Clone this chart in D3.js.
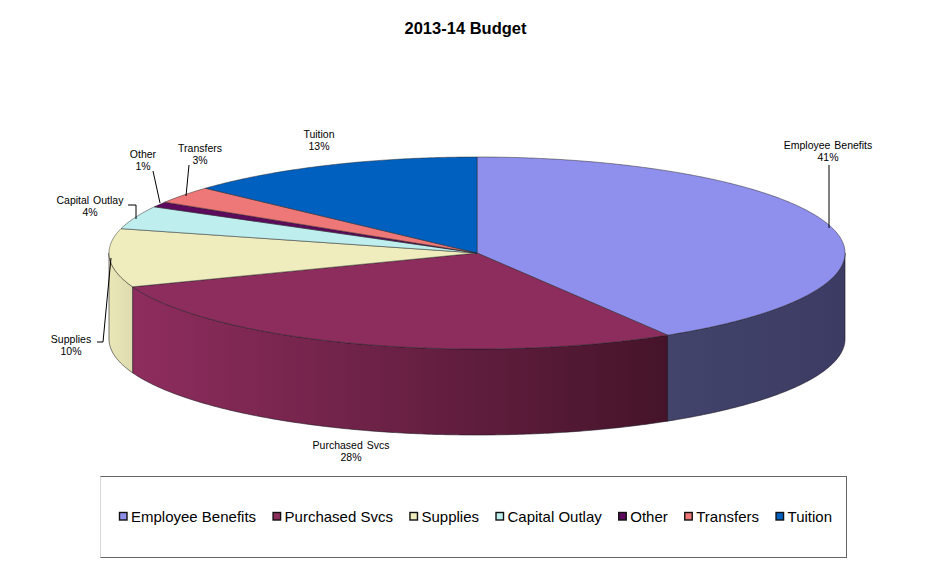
<!DOCTYPE html>
<html>
<head>
<meta charset="utf-8">
<script src="https://cdn.jsdelivr.net/npm/d3@7"></script>
<style>
  html, body { margin: 0; padding: 0; background: #fff; }
  svg { display: block; }
  text { font-family: "Liberation Sans", Arial, sans-serif; fill: #000; }
</style>
</head>
<body>
<svg id="chart" width="951" height="574"></svg>
<script>
const categories = ["Employee Benefits", "Purchased Svcs", "Supplies", "Capital Outlay", "Other", "Transfers", "Tuition"];
const shares = [41.3, 27.9, 9.8, 3.9, 0.9, 2.9, 13.2];
const percentLabels = ["41%", "28%", "10%", "4%", "1%", "3%", "13%"];
const colors = ["#8f8fee", "#8c2d5d", "#efedbe", "#beeeee", "#5c0a5c", "#ee7777", "#0060c0"];

// wall shading, left to right, only slices that reach the front of the pie
const wallShades = {
  "Employee Benefits": ["#42446c", "#3c3b63"],
  "Purchased Svcs": ["#8e2d5e", "#45142a"],
  "Supplies": ["#e9e7b8", "#dedcae"]
};

const width = 951, height = 574;
const cx = 477, cy = 253, rx = 368, ry = 96, depth = 86;

const svg = d3.select("#chart");
const defs = svg.append("defs");

svg.append("text")
  .attr("x", 465.5).attr("y", 34)
  .attr("text-anchor", "middle")
  .attr("font-size", 16.5).attr("font-weight", "bold")
  .text("2013-14 Budget");

const slices = d3.pie().sort(null)(shares);

// unit circle to ellipse, angle 0 at 12 o'clock going clockwise
const xScale = d3.scaleLinear().domain([-1, 1]).range([cx - rx, cx + rx]);
const yScale = d3.scaleLinear().domain([-1, 1]).range([cy - ry, cy + ry]);
const px = a => xScale(Math.sin(a));
const py = a => yScale(-Math.cos(a));

function angles(a0, a1) {
  const n = Math.max(2, Math.ceil((a1 - a0) / 0.01));
  return d3.range(n + 1).map(i => a0 + (a1 - a0) * i / n);
}

// side walls
const wall = d3.area().x(px).y0(py).y1(a => py(a) + depth);
const frontStart = Math.PI / 2, frontEnd = Math.PI * 1.5;

slices.forEach((s, i) => {
  const a0 = Math.max(s.startAngle, frontStart), a1 = Math.min(s.endAngle, frontEnd);
  if (a1 <= a0) return;
  const shade = wallShades[categories[i]];
  const id = "wall" + i;
  const grad = defs.append("linearGradient").attr("id", id)
    .attr("gradientUnits", "userSpaceOnUse")
    .attr("x1", Math.min(px(a0), px(a1))).attr("x2", Math.max(px(a0), px(a1)))
    .attr("y1", 0).attr("y2", 0);
  grad.append("stop").attr("offset", 0).attr("stop-color", shade[0]);
  grad.append("stop").attr("offset", 1).attr("stop-color", shade[1]);
  svg.append("path")
    .attr("d", wall(angles(a0, a1)))
    .attr("fill", `url(#${id})`)
    .attr("stroke", "#1c1420").attr("stroke-width", 0.7).attr("stroke-opacity", 0.85);
});

// top face
const topLine = d3.line().x(d => d[0]).y(d => d[1]);
svg.append("g").selectAll("path")
  .data(slices)
  .join("path")
  .attr("d", s => topLine([[cx, cy]].concat(angles(s.startAngle, s.endAngle).map(a => [px(a), py(a)]))) + "Z")
  .attr("fill", (s, i) => colors[i])
  .attr("stroke", "#222").attr("stroke-width", 0.6).attr("stroke-opacity", 0.8)
  .attr("stroke-linejoin", "round");

// data labels
const labelX = [828, 351, 71, 90, 143, 200, 319];
const labelY = [149, 449, 343, 204, 158, 152, 138];
const leaders = [
  [[829, 165], [829, 228]],
  [],
  [[97, 342], [103, 342], [111, 258]],
  [[128, 205], [136, 205], [136, 219]],
  [[153, 171], [160, 203]],
  [[189, 165], [186, 196]],
  []
];

categories.forEach((c, i) => {
  const t = svg.append("text")
    .attr("text-anchor", "middle")
    .attr("font-size", 10.5).attr("fill", "#222");
  t.append("tspan").attr("x", labelX[i]).attr("y", labelY[i]).attr("word-spacing", 1).text(c);
  t.append("tspan").attr("x", labelX[i]).attr("y", labelY[i] + 12).text(percentLabels[i]);
  if (leaders[i].length) {
    svg.append("path")
      .attr("d", topLine(leaders[i]))
      .attr("fill", "none").attr("stroke", "#000").attr("stroke-width", 1);
  }
});

// legend box
const box = svg.append("g");
box.append("rect")
  .attr("x", 100.5).attr("y", 476.5).attr("width", 746).attr("height", 81)
  .attr("fill", "#fff").attr("stroke", "#666").attr("stroke-width", 1);
box.append("line")
  .attr("x1", 100.5).attr("x2", 100.5).attr("y1", 476.5).attr("y2", 557.5)
  .attr("stroke", "#d8d8d8").attr("stroke-width", 1);

let lx = 119;
categories.forEach((c, i) => {
  box.append("rect")
    .attr("x", lx + 0.5).attr("y", 512.5).attr("width", 7.5).attr("height", 7.5)
    .attr("fill", colors[i]).attr("stroke", "#111").attr("stroke-width", 1.4);
  const t = box.append("text")
    .attr("x", lx + 12).attr("y", 522)
    .attr("font-size", 15).attr("fill", "#111")
    .text(c);
  lx += 12 + t.node().getComputedTextLength() + 16.5;
});
</script>
</body>
</html>
